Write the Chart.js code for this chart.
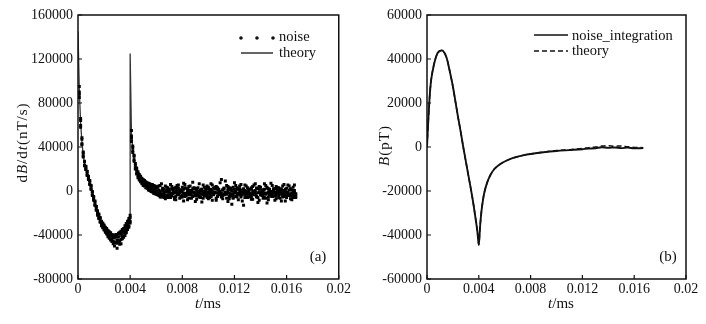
<!DOCTYPE html>
<html>
<head>
<meta charset="utf-8">
<script src="https://cdn.jsdelivr.net/npm/chart.js@4.4.0/dist/chart.umd.min.js"></script>
<style>
  html, body { margin: 0; padding: 0; background: #fff; }
  #wrap { position: relative; width: 706px; height: 324px; }
  canvas { position: absolute; top: 0; }
  #chartA { left: 0; }
  #chartB { left: 353px; }
</style>
</head>
<body>
<div id="wrap">
  <canvas id="chartA" width="353" height="324"></canvas>
  <canvas id="chartB" width="353" height="324"></canvas>
</div>
<script>
/* -------------------------------
   DATA — panel (a): dB/dt (nT/s)
   ------------------------------- */
const noiseLabel = "noise";
const theoryLabel = "theory";
const integLabel = "noise_integration";

const xTicks = [0, 0.004, 0.008, 0.012, 0.016, 0.02];
const xTickLabels = ["0", "0.004", "0.008", "0.012", "0.016", "0.02"];
const yTicksA = [-80000, -40000, 0, 40000, 80000, 120000, 160000];
const yTickLabelsA = ["-80000", "-40000", "0", "40000", "80000", "120000", "160000"];
const yTicksB = [-60000, -40000, -20000, 0, 20000, 40000, 60000];
const yTickLabelsB = ["-60000", "-40000", "-20000", "0", "20000", "40000", "60000"];

// sample times of the noisy measurement
const noiseT = [
  0.0001,0.0002,0.0003,0.0004,0.0005,0.0006,0.0007,0.0008,0.0009,0.0010,
  0.0011,0.0012,0.0013,0.0014,0.0015,0.0016,0.0017,0.0018,0.0019,0.0020,
  0.0021,0.0022,0.0023,0.0024,0.0025,0.0026,0.0027,0.0028,0.0029,0.0030,
  0.0031,0.0032,0.0033,0.0034,0.0035,0.0036,0.0037,0.0038,0.0039,0.0040,
  0.0041,0.0042,0.0043,0.0044,0.0045,0.0046,0.0047,0.0048,0.0049,0.0050,
  0.0051,0.0052,0.0053,0.0054,0.0055,0.0056,0.0057,0.0058,0.0059,0.0060,
  0.0061,0.0062,0.0063,0.0064,0.0065,0.0066,0.0067,0.0068,0.0069,0.0070,
  0.0071,0.0072,0.0073,0.0074,0.0075,0.0076,0.0077,0.0078,0.0079,0.0080,
  0.0081,0.0082,0.0083,0.0084,0.0085,0.0086,0.0087,0.0088,0.0089,0.0090,
  0.0091,0.0092,0.0093,0.0094,0.0095,0.0096,0.0097,0.0098,0.0099,0.0100,
  0.0101,0.0102,0.0103,0.0104,0.0105,0.0106,0.0107,0.0108,0.0109,0.0110,
  0.0111,0.0112,0.0113,0.0114,0.0115,0.0116,0.0117,0.0118,0.0119,0.0120,
  0.0121,0.0122,0.0123,0.0124,0.0125,0.0126,0.0127,0.0128,0.0129,0.0130,
  0.0131,0.0132,0.0133,0.0134,0.0135,0.0136,0.0137,0.0138,0.0139,0.0140,
  0.0141,0.0142,0.0143,0.0144,0.0145,0.0146,0.0147,0.0148,0.0149,0.0150,
  0.0151,0.0152,0.0153,0.0154,0.0155,0.0156,0.0157,0.0158,0.0159,0.0160,
  0.0161,0.0162,0.0163,0.0164,0.0165,0.0166,0.0167
];

// four readings per sample time (the scatter band)
const noiseA = [
  88000,64000,47000,31000,26500,19500,17500,10500,9500,1500,
  -500,-8500,-9000,-17500,-18000,-25000,-24000,-31500,-29000,-35500,
  -33000,-39000,-36000,-43000,-38000,-46000,-40000,-50000,-39500,-47500,
  -38500,-45500,-36500,-43500,-34000,-40500,-29500,-35000,-25000,-22000,
  48000,41000,27000,25000,15500,17500,10000,13500,6500,10500,
  4500,8500,2500,7000,500,5500,-1000,5000,-2500,4000,
  3500,-4000,5000,-2500,2000,-6000,4500,-1000,3000,-5500,
  6000,-3000,1500,-7500,3500,-500,5500,-6500,1000,-4000,
  7000,-2000,2500,-8000,4000,-1500,500,-5000,3000,-9500,
  2000,-3500,6500,-2500,1500,-6500,3500,-1000,4500,-7000,
  500,-4500,5500,-3000,2000,-8500,3000,-1500,7500,-5000,
  1000,-3500,9000,-2000,4000,-7000,2500,-12000,3500,-1000,
  5000,-5500,1500,-3000,6000,-9000,2000,-2500,4500,-6000,
  500,-4000,3000,-7500,5500,-1500,2500,-10500,4000,-3000,
  1000,-6500,6500,-2000,3500,-8000,1500,-4500,5000,-1000,
  2000,-7000,3000,-3500,500,-9000,4500,-2500,1500,-6000,
  5500,-4000,2000,-8000,3500,-1500,-5000
];
const noiseB = [
  95000,58000,43000,35500,23000,22500,14000,13500,6000,5000,
  -4000,-5000,-13000,-14000,-22000,-21000,-28500,-27500,-33500,-31000,
  -37500,-34000,-41500,-37000,-44500,-40000,-48000,-41000,-46500,-52000,
  -45000,-37500,-48000,-35000,-42000,-31500,-38000,-27500,-31500,-29000,
  55000,35000,32500,20000,21000,12000,15000,8500,11500,5000,
  9500,3000,7500,1000,6500,-500,6000,-2000,4500,-3000,
  -2500,4500,-5500,6500,-3500,1500,-7000,3500,-4500,500,
  -6000,4000,-1500,2500,-8000,5000,-3000,1000,-5500,3500,
  -9000,6000,-2500,1500,-6500,4500,-3500,8000,-1000,2000,
  -7500,3000,-4500,500,-10000,5500,-2000,1000,-6000,3500,
  -3500,6500,-8500,2500,-1500,4000,-5000,1500,-3000,10500,
  -7000,2500,-2500,5000,-9500,3000,-4500,1000,-6500,7500,
  -1500,2000,-8000,4500,-3500,500,-13000,5500,-2000,3000,
  -5500,1500,-7500,4000,-1000,6500,-4500,2500,-8500,3500,
  -2500,1000,-6000,5000,-11000,2000,-3000,7000,-5000,1500,
  -8500,4000,-1500,3000,-6500,500,-4000,6000,-9000,2500,
  -2000,4500,-7000,1000,-3500,5500,-6000
];
const noiseC = [
  90000,59500,48500,34500,23500,20000,18000,11000,6500,4500,
  -3500,-5500,-12500,-14000,-21000,-22000,-27500,-30500,-30000,-34500,
  -36500,-35000,-40000,-38000,-43500,-39500,-45500,-42000,-47000,-40000,
  -46000,-39000,-44000,-37500,-41000,-34500,-36500,-29000,-33000,-24000,
  50000,36500,28500,23500,19000,14000,13500,9500,10000,7000,
  8000,5000,6000,3000,4500,2000,3500,500,2500,-500,
  -1500,-3000,0,-4500,1000,-2500,-5000,500,-3500,-1000,
  -4000,1500,-2000,-6000,0,-3000,2500,-1500,-4500,-500,
  1500,-5000,-2500,500,-3500,-1000,-6500,2000,-2000,-4000,
  0,-1500,-5500,1000,-3000,-500,-4500,2500,-2500,-1000,
  -6000,1500,-2000,-3500,3500,-1500,-4500,0,-2500,-5500,
  1000,-3000,-1000,-6500,2000,-2000,-4000,500,-3500,-1500,
  -5000,3000,-2500,-500,-4000,1000,-3000,-6000,0,-2000,
  -1000,-4500,2000,-2500,-3500,500,-5500,-1500,1500,-3000,
  -4000,0,-2000,-6500,2500,-1000,-3500,-500,-5000,1000,
  -2500,-4500,500,-1500,-3000,2000,-5500,-2000,0,-4000,
  -1000,-3500,1500,-2500,-6000,500,-3000
];
const noiseD = [
  85000,66000,42000,32000,27000,22000,15000,12500,9000,2000,
  -1000,-7500,-10000,-16500,-20500,-24500,-25000,-28000,-32500,-32000,
  -34000,-38000,-37000,-41000,-40000,-44000,-41500,-46500,-41500,-45000,
  -41500,-48500,-39000,-41500,-36500,-38500,-32000,-33000,-27000,-27500,
  45000,39500,31500,21000,16500,16000,11500,11500,8000,9000,
  6000,7000,4000,5500,2500,4000,1500,3000,0,2500,
  -3500,1000,-2000,-5500,2500,-1000,-4000,-500,-6000,1500,
  -2500,-4500,500,-1500,-5000,2000,-3500,-1000,0,-5500,
  -2000,3000,-4500,-1500,1000,-3000,-500,-5000,2500,-2500,
  -4500,0,-1000,-6000,1500,-3500,-2000,-500,-4000,2000,
  -1500,-5000,0,-2500,-1000,-6500,1500,-3500,-500,-2000,
  -4000,2500,-1500,-3000,0,-5000,1000,-2500,-6000,1500,
  -500,-3500,-2000,2000,-5500,-1000,-2500,500,-4500,-3000,
  1500,-2000,-5000,0,-1500,-3500,2500,-6000,-1000,-2500,
  -500,-4000,1500,-3000,-2000,-5500,0,-1500,-3500,2000,
  -4500,-1000,-2500,-6000,1000,-2000,-3500,500,-5000,-1500,
  -3000,1000,-4500,-2000,0,-5500,-2500
];

// theoretical dB/dt curve
const theoryT = [
  0,0.0001,0.0002,0.0003,0.0004,0.0005,0.0006,0.0007,0.0008,0.0009,
  0.001,0.0011,0.0012,0.0013,0.0014,0.0015,0.0016,0.0017,0.0018,
  0.002,0.0022,0.0024,0.0026,0.0028,0.003,0.0032,0.0034,0.0036,0.0038,0.004,
  0.004,0.0041,0.0042,0.0043,0.0044,0.0045,0.0046,
  0.0048,0.005,0.0052,0.0055,0.006,0.0065,0.007,0.008,0.01,0.012,0.014,0.016,0.0167
];
const theoryV = [
  145000,92000,62000,45000,33000,25000,21000,16000,12000,8000,
  3000,-2000,-6500,-11000,-15500,-19500,-23000,-26000,-29000,
  -33000,-36500,-39500,-42000,-43500,-43500,-42000,-39500,-36000,-31000,-26000,
  125000,52000,38000,30000,22000,18000,15000,
  10500,8000,6000,3500,1000,-500,-1500,-2000,-2000,-2000,-2000,-2000,-2000
];

/* -------------------------------
   DATA — panel (b): B (pT)
   ------------------------------- */
const bT = [
  0,0.0001,0.0002,0.0003,0.0004,0.0005,0.0006,0.0007,0.0008,0.0009,
  0.001,0.0011,0.0012,0.0013,0.0014,0.0015,0.0016,0.0017,0.0018,0.0019,0.002,
  0.0022,0.0024,0.0026,0.0028,0.003,0.0032,0.0034,0.0036,0.0038,
  0.0039,0.004,
  0.0041,0.0042,0.0043,0.0044,0.0045,0.0046,0.0047,0.0048,0.0049,0.005,
  0.0052,0.0055,0.006,0.0065,0.007,0.0075,0.008,0.009,0.01,0.011,0.012,
  0.0125,0.013,0.0135,0.014,0.0145,0.015,0.0155,0.016,0.0167
];
const bInteg = [
  0,12000,22500,29500,33500,36500,39000,41000,42500,43300,
  43700,43900,43800,43200,42200,40800,38700,36000,33300,30500,27500,
  20500,13500,7000,0,-6500,-13000,-19500,-26500,-34500,
  -39000,-44500,
  -36000,-29500,-25000,-21500,-19000,-17000,-15300,-13900,-12700,-11700,
  -10000,-8400,-6600,-5300,-4400,-3700,-3200,-2400,-1800,-1400,-1000,
  -700,-600,-100,-400,-200,-500,-300,-600,-500
];
const bTheory = [
  0,12000,22500,29500,33500,36500,39000,41000,42500,43300,
  43700,43900,43800,43200,42200,40800,38700,36000,33300,30500,27500,
  20500,13500,7000,0,-6500,-13000,-19500,-26500,-34500,
  -39000,-44500,
  -36000,-29500,-25000,-21500,-19000,-17000,-15300,-13900,-12700,-11700,
  -10000,-8400,-6600,-5300,-4400,-3700,-3200,-2300,-1600,-1200,-700,
  -300,0,400,600,300,500,100,-200,-300
];

/* -------------------------------
   DRAWING HELPERS
   ------------------------------- */
const SERIF = '"Liberation Serif", "Times New Roman", serif';
const INK = "#111";

const toPoints = (xs, ys) => xs.map((x, i) => ({ x: x, y: ys[i] }));

// text made of upright / italic pieces, centred on (cx, cy)
function drawRuns(ctx, runs, cx, cy, rotate, spacing, size) {
    const chars = [];
    runs.forEach(([txt, it]) => { for (const ch of txt) chars.push([ch, it]); });
    const fontFor = it => (it ? "italic " : "") + size + "px " + SERIF;
    let total = spacing * (chars.length - 1);
    chars.forEach(([ch, it]) => { ctx.font = fontFor(it); total += ctx.measureText(ch).width; });
    ctx.save();
    ctx.translate(cx, cy);
    if (rotate) ctx.rotate(-Math.PI / 2);
    ctx.fillStyle = INK;
    ctx.textAlign = "left";
    ctx.textBaseline = "middle";
    let x = -total / 2;
    chars.forEach(([ch, it]) => {
        ctx.font = fontFor(it);
        ctx.fillText(ch, x, 0);
        x += ctx.measureText(ch).width + spacing;
    });
    ctx.restore();
}

// per panel decorations (positions in canvas pixels)
const decor = {
    chartA: {
        yTitle: { runs: [["d", 0], ["B", 1], ["/", 0], ["d", 0], ["t", 1], ["(nT/s)", 0]], x: 23, y: 143, sp: 1 },
        xTitle: { runs: [["t", 1], ["/ms", 0]], x: 208, y: 304, sp: 0 },
        panel: { text: "(a)", x: 318, y: 257 },
        legend: { x0: 241, x1: 273, tx: 279, rows: [
            { label: noiseLabel, kind: "dots", y: 38, ty: 41 },
            { label: theoryLabel, kind: "line", y: 53, ty: 57 }
        ] }
    },
    chartB: {
        yTitle: { runs: [["B", 1], ["(pT)", 0]], x: 32, y: 146, sp: 1 },
        xTitle: { runs: [["t", 1], ["/ms", 0]], x: 208, y: 304, sp: 0 },
        panel: { text: "(b)", x: 315, y: 257 },
        legend: { x0: 181, x1: 215, tx: 219, rows: [
            { label: integLabel, kind: "line", y: 35, ty: 40 },
            { label: theoryLabel, kind: "dash", y: 51, ty: 55 }
        ] }
    }
};

const framePlugin = {
    id: "frame",
    afterDraw(chart) {
        const { ctx, chartArea: a, scales } = chart;
        const d = decor[chart.canvas.id];
        ctx.save();

        // box + inward ticks
        ctx.strokeStyle = INK;
        ctx.lineWidth = 1.5;
        ctx.strokeRect(a.left, a.top, a.right - a.left, a.bottom - a.top);
        ctx.lineWidth = 1.2;
        ctx.beginPath();
        scales.x.ticks.forEach(t => {
            const px = scales.x.getPixelForValue(t.value);
            ctx.moveTo(px, a.bottom); ctx.lineTo(px, a.bottom - 4);
        });
        scales.y.ticks.forEach(t => {
            const py = scales.y.getPixelForValue(t.value);
            ctx.moveTo(a.left, py); ctx.lineTo(a.left + 4, py);
        });
        ctx.stroke();

        // legend
        const lg = d.legend;
        ctx.font = "14.5px " + SERIF;
        ctx.fillStyle = INK;
        ctx.textAlign = "left";
        ctx.textBaseline = "alphabetic";
        lg.rows.forEach(r => {
            ctx.beginPath();
            if (r.kind === "dots") {
                [lg.x0, (lg.x0 + lg.x1) / 2, lg.x1].forEach(cx => {
                    ctx.moveTo(cx + 1.8, r.y);
                    ctx.arc(cx, r.y, 1.8, 0, Math.PI * 2);
                });
                ctx.fill();
            } else {
                ctx.lineWidth = 1.3;
                ctx.setLineDash(r.kind === "dash" ? [5, 3] : []);
                ctx.moveTo(lg.x0, r.y);
                ctx.lineTo(lg.x1, r.y);
                ctx.stroke();
                ctx.setLineDash([]);
            }
            ctx.fillText(r.label, lg.tx, r.ty);
        });

        // panel tag
        ctx.font = "15px " + SERIF;
        ctx.textAlign = "center";
        ctx.textBaseline = "middle";
        ctx.fillText(d.panel.text, d.panel.x, d.panel.y);
        ctx.restore();

        // axis titles
        drawRuns(ctx, d.yTitle.runs, d.yTitle.x, d.yTitle.y, true, d.yTitle.sp, 15);
        drawRuns(ctx, d.xTitle.runs, d.xTitle.x, d.xTitle.y, false, d.xTitle.sp, 15);
    }
};

function axes(yMin, yMax, yTicks, yLabels, yWidth) {
    const tickFont = { family: SERIF, size: 14 };
    return {
        x: {
            type: "linear", min: 0, max: 0.02,
            grid: { display: false, drawTicks: false }, border: { display: false },
            afterBuildTicks: s => { s.ticks = xTicks.map(v => ({ value: v })); },
            afterFit: s => { s.height = 45; },
            ticks: { font: tickFont, color: INK, padding: 2, autoSkip: false, maxRotation: 0,
                     callback: (v, i) => xTickLabels[i] }
        },
        y: {
            type: "linear", min: yMin, max: yMax,
            grid: { display: false, drawTicks: false }, border: { display: false },
            afterBuildTicks: s => { s.ticks = yTicks.map(v => ({ value: v })); },
            afterFit: s => { s.width = yWidth; },
            ticks: { font: tickFont, color: INK, padding: 5, autoSkip: false,
                     callback: (v, i) => yLabels[i] }
        }
    };
}

const baseOptions = (scales, padRight) => ({
    responsive: false,
    devicePixelRatio: 1,
    animation: false,
    events: [],
    layout: { padding: { left: 0, top: 15, right: padRight, bottom: 0 } },
    plugins: { legend: { display: false }, tooltip: { enabled: false } },
    scales: scales
});

const dots = (arr) => ({
    label: noiseLabel, data: toPoints(noiseT, arr), pointStyle: "rect",
    pointRadius: 2.1, backgroundColor: "#000", borderWidth: 0
});

/* -------------------------------
   PANEL (a)
   ------------------------------- */
new Chart(document.getElementById("chartA"), {
    type: "scatter",
    data: {
        datasets: [
            dots(noiseA), dots(noiseB), dots(noiseC), dots(noiseD),
            { label: theoryLabel, data: toPoints(theoryT, theoryV), showLine: true,
              borderColor: "#333", borderWidth: 1.3, pointRadius: 0, fill: false }
        ]
    },
    options: baseOptions(axes(-80000, 160000, yTicksA, yTickLabelsA, 78), 14),
    plugins: [framePlugin]
});

/* -------------------------------
   PANEL (b)
   ------------------------------- */
new Chart(document.getElementById("chartB"), {
    type: "scatter",
    data: {
        datasets: [
            { label: integLabel, data: toPoints(bT, bInteg), showLine: true,
              borderColor: "#111", borderWidth: 1.9, pointRadius: 0, fill: false,
              cubicInterpolationMode: "monotone" },
            { label: theoryLabel, data: toPoints(bT, bTheory), showLine: true,
              borderColor: "#111", borderWidth: 1.5, borderDash: [5, 3], pointRadius: 0, fill: false,
              cubicInterpolationMode: "monotone" }
        ]
    },
    options: baseOptions(axes(-60000, 60000, yTicksB, yTickLabelsB, 74), 20),
    plugins: [framePlugin]
});
</script>
</body>
</html>
